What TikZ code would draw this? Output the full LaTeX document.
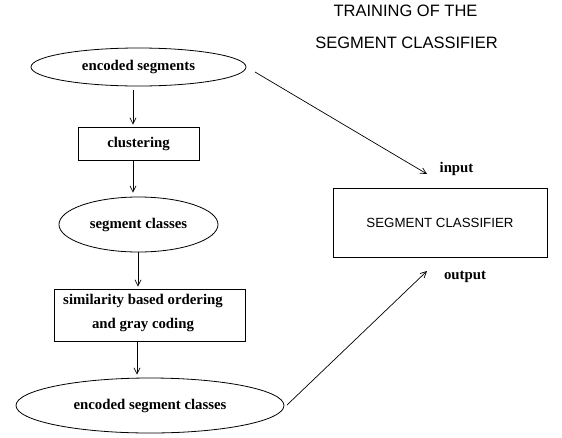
\documentclass[tikz,border=0pt]{standalone}
\usepackage{fontspec}
\setmainfont{Liberation Serif}
\newfontfamily\helv{Liberation Sans}
\usetikzlibrary{shapes.geometric,arrows.meta,calc}
\begin{document}
\begin{tikzpicture}[x=1pt,y=-1pt,
  lbl/.style={font=\fontsize{14.8}{24}\selectfont\bfseries, inner sep=0pt},
  oval/.style={ellipse, draw, line width=0.8pt, inner sep=0pt, lbl},
  boxnode/.style={rectangle, draw, line width=0.8pt, inner sep=0pt, lbl},
  arr/.style={-{Straight Barb[length=6pt,width=6pt]}, line width=0.7pt},
  title/.style={font=\helv\fontsize{16.5}{20}\selectfont, inner sep=0pt}]
\useasboundingbox (0,0) rectangle (562,437);

\node[title] (t1) at (405.5,11) {TRAINING OF THE};
\node[title] (t2) at (406.5,43) {SEGMENT CLASSIFIER};

\node[oval, minimum width=215, minimum height=38] (es) at (138.5,67) {encoded segments};
\node[boxnode, minimum width=121, minimum height=33] (cl) at (138.5,143.5) {clustering};
\node[oval, minimum width=159, minimum height=55] (sc) at (138.5,224.5) {segment classes};
\node[boxnode, minimum width=191, minimum height=52] (sim) at (149.5,315) {};
\node[lbl, align=center] (simtext) at (143,313) {similarity based ordering\\and gray coding};
\node[oval, minimum width=268, minimum height=55] (esc) at (150,405.5) {encoded segment classes};

\node[rectangle, draw, line width=0.8pt, minimum width=214, minimum height=69, inner sep=0pt,
      font=\helv\fontsize{13.3}{16}\selectfont] (sc2) at (440,222.5) {SEGMENT CLASSIFIER};
\node[lbl] (in) at (456.5,169) {input};
\node[lbl] (out) at (465,277) {output};

\coordinate (inS) at (255,72);
\coordinate (inT) at (427,174);
\coordinate (outS) at (287,405);
\coordinate (outT) at (427,271);

\draw[arr] ([xshift=-5.5pt,yshift=-4pt]es.south) -- ([xshift=-5.5pt,yshift=2pt]cl.north);
\draw[arr] ([xshift=-5.5pt]cl.south) -- ([xshift=-5.5pt,yshift=4pt]sc.north);
\draw[arr] ([xshift=-0.5pt]sc.south) -- ([xshift=-0.5pt,yshift=2pt]sim.north -| sc.south);
\draw[arr] ([xshift=-12.5pt]sim.south) -- ([xshift=-12.5pt,yshift=3pt]sim.south |- esc.north);
\draw[arr] (inS) -- (inT);
\draw[arr] (outS) -- (outT);
\end{tikzpicture}
\end{document}
